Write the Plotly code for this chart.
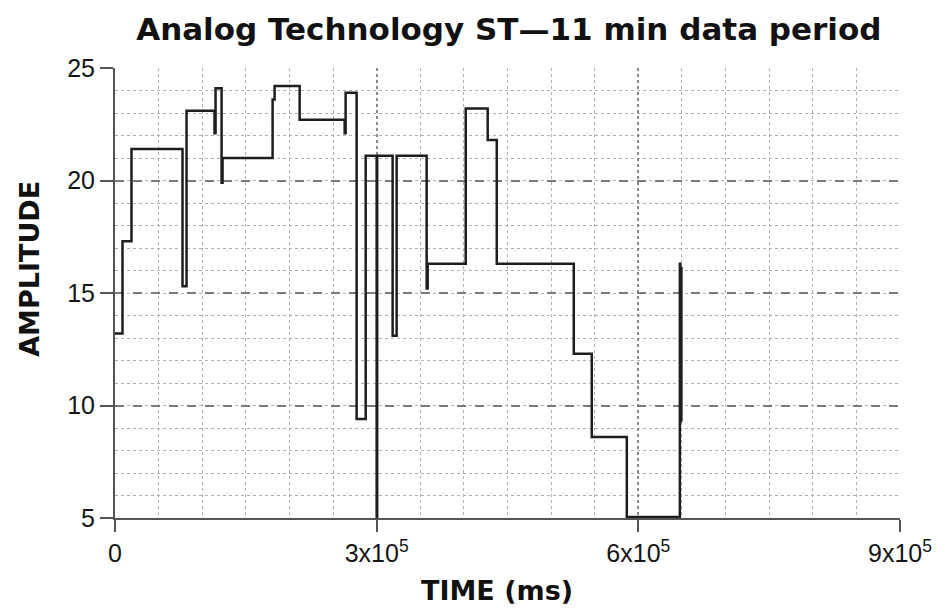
import plotly.graph_objects as go

# Step trace (hv steps: value holds from each time until the next)
time_ms = [0, 8600, 18900, 77400, 82000, 114100, 115300, 122200, 123300, 180700,
           183000, 211700, 263300, 264400, 277000, 287400, 300000, 300600, 318300,
           322900, 357300, 358500, 402100, 427300, 437700, 526000, 546600, 586800,
           647600, 648200, 648800, 649400, 650000]
amplitude = [13.2, 17.3, 21.4, 15.3, 23.1, 22.1, 24.1, 19.9, 21.0, 23.6,
             24.2, 22.7, 22.1, 23.9, 9.4, 21.1, 5.0, 21.1, 13.1,
             21.1, 15.2, 16.3, 23.2, 21.8, 16.3, 12.3, 8.6, 5.05,
             16.3, 9.3, 16.1, 9.3, 9.3]

x_tickvals = [0, 300000, 600000, 900000]
x_ticktext = ["0", "3x10<sup>5</sup>", "6x10<sup>5</sup>", "9x10<sup>5</sup>"]
y_tickvals = [5, 10, 15, 20, 25]
y_ticktext = ["5", "10", "15", "20", "25"]

fig = go.Figure()
fig.add_trace(go.Scatter(
    x=time_ms, y=amplitude, mode="lines", line_shape="hv",
    line=dict(color="#1e1e1e", width=2.5), showlegend=False, hoverinfo="skip"))

tick_family = "Liberation Sans, Arial, sans-serif"
title_family = "DejaVu Sans, sans-serif"

fig.update_layout(
    width=944, height=612,
    margin=dict(l=115, r=44, t=68, b=94),
    paper_bgcolor="white", plot_bgcolor="white",
    title=dict(text="<b>Analog Technology ST\u201411 min data period</b>",
               x=0.539, xanchor="center", y=0.952, yanchor="middle",
               font=dict(family=title_family, size=31, color="#111111")),
    xaxis=dict(range=[0, 900000], tickvals=x_tickvals, ticktext=x_ticktext,
               showline=True, linecolor="#555555", linewidth=2,
               ticks="outside", ticklen=12, tickwidth=1.5, tickcolor="#555555",
               tickfont=dict(family=tick_family, size=25, color="#151515"),
               showgrid=True, gridcolor="#8a8a8a", gridwidth=1.5, griddash="dot",
               minor=dict(dtick=50000, tick0=0, showgrid=True, gridcolor="#b0b0b0",
                          gridwidth=1, griddash="dot"),
               zeroline=False, mirror=False),
    yaxis=dict(range=[5, 25], tickvals=y_tickvals, ticktext=y_ticktext,
               showline=True, linecolor="#555555", linewidth=2,
               ticks="outside", ticklen=13, tickwidth=1.5, tickcolor="#555555",
               tickfont=dict(family=tick_family, size=25, color="#151515"),
               showgrid=True, gridcolor="#7a7a7a", gridwidth=1.5, griddash="dash",
               minor=dict(dtick=1, tick0=5, showgrid=True, gridcolor="#b0b0b0",
                          gridwidth=1, griddash="dot"),
               zeroline=False, mirror=False),
    annotations=[
        dict(text="<b>TIME (ms)</b>", xref="paper", yref="paper", x=0.486, y=-0.162,
             xanchor="center", yanchor="middle", showarrow=False,
             font=dict(family=title_family, size=27, color="#111111")),
        dict(text="<b>AMPLITUDE</b>", xref="paper", yref="paper", x=-0.11, y=0.553,
             xanchor="center", yanchor="middle", showarrow=False, textangle=-90,
             font=dict(family=title_family, size=27, color="#111111")),
    ],
)

fig.write_html("out.html")
